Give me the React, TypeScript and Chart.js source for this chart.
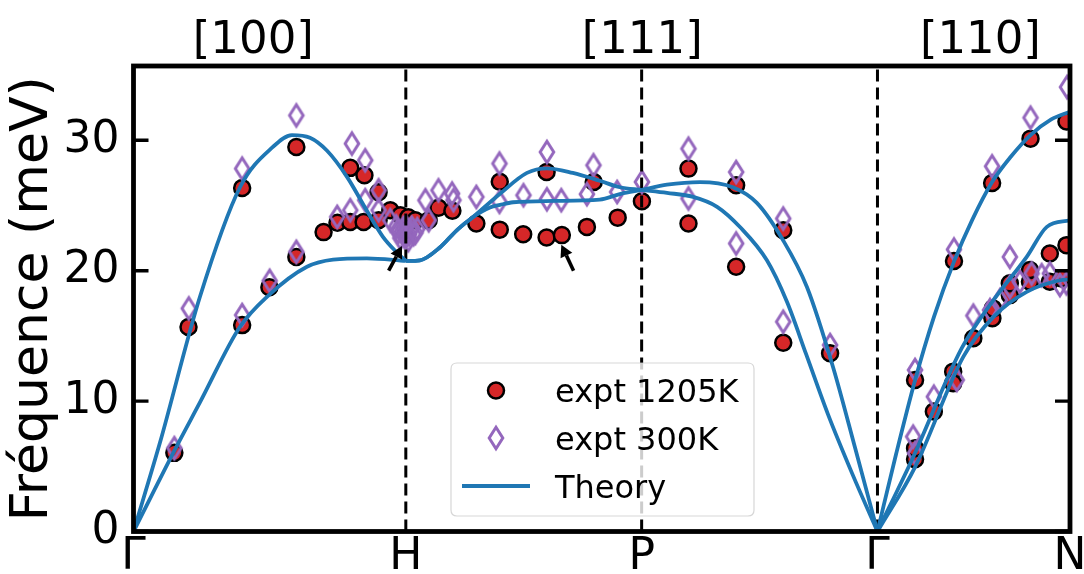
import React, { useEffect, useRef } from "react";
import { Chart, registerables } from "chart.js";

Chart.register(...registerables);

// ---- axes / labels ----
const kLabels = ["Γ", "H", "P", "Γ", "N"];
const kPositions = [0, 1, 1.866, 2.732, 3.439];
const dirLabels = ["[100]", "[111]", "[110]"];
const dirPositions = [0.44, 1.868, 3.11];
const yTickValues = [0, 10, 20, 30];
const yMax = 35.7;
const yTitle = "Fréquence (meV)";
const legendLabels = ["expt 1205K", "expt 300K", "Theory"];

// ---- experimental data [q, meV] ----
const expt1205K: [number, number][] = [
  [0.150, 6.03], [0.202, 15.68], [0.399, 26.35], [0.399, 15.83], [0.499, 18.74],
  [0.598, 29.49], [0.598, 21.06], [0.698, 22.96], [0.749, 23.68], [0.796, 23.74],
  [0.845, 23.74], [0.900, 23.87], [0.796, 27.89], [0.848, 27.32], [0.900, 26.02],
  [0.943, 24.64], [0.980, 24.26], [1.009, 24.1], [1.035, 23.87], [1.084, 23.87],
  [1.120, 24.83], [1.171, 24.6], [1.259, 23.62], [1.345, 26.82], [1.345, 23.15],
  [1.431, 22.8], [1.517, 22.55], [1.517, 27.57], [1.573, 22.73], [1.665, 23.36],
  [1.690, 26.81], [1.778, 24.07], [1.867, 25.33],
  [2.038, 27.83], [2.038, 23.62], [2.213, 26.55], [2.213, 20.3], [2.386, 23.11],
  [2.386, 14.48], [2.558, 13.67],
  [2.870, 5.55], [2.870, 6.39], [2.870, 11.62], [2.939, 9.2], [3.010, 12.26],
  [3.010, 11.37], [3.013, 20.74], [3.084, 14.82], [3.154, 16.35], [3.156, 17.11],
  [3.153, 26.73], [3.218, 18.13], [3.218, 19.03], [3.292, 19.15], [3.292, 20.05],
  [3.294, 30.13], [3.365, 19.15], [3.365, 21.32], [3.408, 19.41], [3.426, 21.96],
  [3.426, 31.45],
];

const expt300K: [number, number][] = [
  [0.150, 6.39], [0.203, 17.11], [0.399, 27.83], [0.399, 16.6], [0.500, 19.23],
  [0.598, 31.91], [0.598, 21.45], [0.748, 24.13], [0.796, 24.64], [0.802, 29.75],
  [0.851, 28.47], [0.851, 25.41], [0.900, 26.17], [0.900, 24.64], [0.943, 23.87],
  [0.972, 22.95], [0.991, 23.26], [1.002, 22.65], [1.017, 23.11], [1.028, 22.8],
  [1.042, 23.19], [1.009, 22.34], [0.980, 22.5], [0.985, 23.0], [0.995, 22.6],
  [1.012, 22.8], [1.022, 23.3], [1.035, 22.9], [1.0, 23.4], [0.965, 23.4],
  [1.072, 25.4], [1.084, 23.87], [1.120, 26.17], [1.170, 25.92], [1.175, 25.41],
  [1.259, 25.66], [1.344, 28.22], [1.344, 25.28], [1.432, 25.79], [1.518, 29.1],
  [1.518, 25.48], [1.571, 25.41], [1.665, 25.87], [1.689, 28.09], [1.776, 26.04],
  [1.867, 26.81],
  [2.038, 29.36], [2.038, 25.54], [2.213, 27.57], [2.213, 22.09], [2.386, 24.0],
  [2.386, 16.09], [2.558, 14.3],
  [2.863, 7.28], [2.870, 6.01], [2.870, 12.39], [2.939, 10.34], [3.023, 11.62],
  [3.013, 21.63], [3.084, 16.56], [3.145, 16.98], [3.153, 28.01], [3.182, 17.75],
  [3.218, 18.77], [3.218, 21.06], [3.255, 19.15], [3.298, 19.79], [3.294, 31.74],
  [3.335, 19.66], [3.365, 19.79], [3.402, 18.9], [3.426, 19.03], [3.428, 34.08],
];

// ---- theory branches [q, meV] ----
const theoryGH_L: [number, number][] = [
  [0, 0], [0.097, 6.8], [0.244, 18.0], [0.391, 26.4], [0.512, 29.5], [0.582, 30.4],
  [0.648, 30.2], [0.711, 29.2], [0.784, 27.2], [0.857, 24.6], [0.916, 22.6],
  [0.967, 21.4], [1, 20.75],
];
const theoryGH_T: [number, number][] = [
  [0, 0], [0.145, 6.0], [0.244, 9.9], [0.391, 15.7], [0.49, 18.0], [0.637, 20.3],
  [0.733, 20.85], [0.857, 20.95], [1, 20.75],
];
const theoryHP_1: [number, number][] = [
  [1, 20.75], [1.052, 20.8], [1.126, 21.8], [1.187, 23.1], [1.246, 24.1],
  [1.346, 25.9], [1.445, 27.5], [1.518, 27.85], [1.613, 27.5], [1.712, 26.9],
  [1.786, 26.4], [1.866, 26.2],
];
const theoryHP_2: [number, number][] = [
  [1, 20.75], [1.052, 20.8], [1.126, 21.8], [1.187, 23.1], [1.246, 24.1],
  [1.309, 24.85], [1.346, 25.05], [1.394, 25.25], [1.541, 25.35], [1.712, 25.45],
  [1.789, 25.9], [1.866, 26.2],
];
const theoryPG_1: [number, number][] = [
  [1.866, 26.2], [1.959, 25.97], [2.055, 25.66], [2.143, 24.9], [2.228, 23.33],
  [2.326, 20.8], [2.4, 17.6], [2.47, 13.6], [2.55, 9.0], [2.64, 4.4], [2.732, 0],
];
const theoryPG_2: [number, number][] = [
  [1.866, 26.2], [1.959, 26.6], [2.08, 26.8], [2.201, 26.4], [2.289, 25.2],
  [2.385, 22.35], [2.473, 18.75], [2.569, 12.6], [2.65, 6.4], [2.732, 0],
];
const theoryGN_L: [number, number][] = [
  [2.732, 0], [2.8, 5.9], [2.87, 11.6], [2.94, 16.5], [3.013, 20.7], [3.08, 23.9],
  [3.153, 26.8], [3.22, 28.7], [3.294, 30.4], [3.37, 31.6], [3.439, 32.2],
];
const theoryGN_T1: [number, number][] = [
  [2.732, 0], [2.863, 5.7], [3.041, 14.04], [3.158, 17.74], [3.28, 21.06],
  [3.354, 23.36], [3.439, 23.87],
];
const theoryGN_T2: [number, number][] = [
  [2.732, 0], [2.87, 4.94], [3.047, 13.39], [3.158, 16.46], [3.28, 18.38],
  [3.403, 19.27], [3.439, 19.33],
];
const theoryBranches = [
  theoryGH_L, theoryGH_T, theoryHP_1, theoryHP_2, theoryPG_1, theoryPG_2,
  theoryGN_L, theoryGN_T1, theoryGN_T2,
];

// ---- annotation arrows [q, meV] ----
const arrowTails: [number, number][] = [[0.937, 20.0], [1.616, 20.0]];
const arrowTips: [number, number][] = [[0.986, 21.9], [1.571, 22.0]];

const RED = "#d62728";
const PURPLE = "#9467bd";
const BLUE = "#1f77b4";
const FONT = "'DejaVu Sans', sans-serif";

function makeDiamond(): HTMLCanvasElement {
  const c = document.createElement("canvas");
  c.width = 22;
  c.height = 34;
  const g = c.getContext("2d")!;
  g.strokeStyle = PURPLE;
  g.lineWidth = 3;
  g.lineJoin = "miter";
  g.beginPath();
  g.moveTo(11, 17 - 10.8);
  g.lineTo(11 + 6.8, 17);
  g.lineTo(11, 17 + 10.8);
  g.lineTo(11 - 6.8, 17);
  g.closePath();
  g.stroke();
  return c;
}

export default function App() {
  const ref = useRef<HTMLCanvasElement | null>(null);

  useEffect(() => {
    if (!ref.current) return;
    const diamond = makeDiamond();
    const DIAMOND_INDEX = theoryBranches.length;

    const drawCircle = (ctx: CanvasRenderingContext2D, x: number, y: number) => {
      ctx.beginPath();
      ctx.arc(x, y, 8, 0, Math.PI * 2);
      ctx.fillStyle = RED;
      ctx.fill();
      ctx.lineWidth = 2.5;
      ctx.strokeStyle = "#000";
      ctx.stroke();
    };

    const decor = {
      id: "decor",
      beforeDraw(chart: any) {
        const { ctx, width, height } = chart;
        ctx.save();
        ctx.fillStyle = "#fff";
        ctx.fillRect(0, 0, width, height);
        ctx.restore();
      },
      afterDatasetDraw(chart: any, args: any) {
        if (args.index !== DIAMOND_INDEX) return;
        const { ctx, chartArea, scales } = chart;
        ctx.save();
        ctx.strokeStyle = "#000";
        ctx.lineWidth = 3;
        ctx.setLineDash([12, 6]);
        for (const k of [1, 2, 3]) {
          const px = scales.x.getPixelForValue(kPositions[k]);
          ctx.beginPath();
          ctx.moveTo(px, chartArea.bottom);
          ctx.lineTo(px, chartArea.top);
          ctx.stroke();
        }
        ctx.restore();
      },
      afterDraw(chart: any) {
        const { ctx, chartArea, scales } = chart;
        const { left, right, top, bottom } = chartArea;
        const xs = scales.x;
        const ys = scales.y;
        ctx.save();

        // arrows
        ctx.strokeStyle = "#000";
        ctx.fillStyle = "#000";
        ctx.lineWidth = 3.6;
        for (let i = 0; i < arrowTails.length; i++) {
          const x0 = xs.getPixelForValue(arrowTails[i][0]);
          const y0 = ys.getPixelForValue(arrowTails[i][1]);
          const x1 = xs.getPixelForValue(arrowTips[i][0]);
          const y1 = ys.getPixelForValue(arrowTips[i][1]);
          const ang = Math.atan2(y1 - y0, x1 - x0);
          const hl = 12, hw = 6.5;
          const bx = x1 - hl * Math.cos(ang);
          const by = y1 - hl * Math.sin(ang);
          ctx.beginPath();
          ctx.moveTo(x0, y0);
          ctx.lineTo(bx, by);
          ctx.stroke();
          ctx.beginPath();
          ctx.moveTo(x1, y1);
          ctx.lineTo(bx + hw * Math.sin(ang), by - hw * Math.cos(ang));
          ctx.lineTo(bx - hw * Math.sin(ang), by + hw * Math.cos(ang));
          ctx.closePath();
          ctx.fill();
        }

        // ticks (inward, left and right)
        ctx.lineWidth = 3.4;
        for (const v of yTickValues) {
          const py = ys.getPixelForValue(v);
          ctx.beginPath();
          ctx.moveTo(left, py);
          ctx.lineTo(left + 15, py);
          ctx.moveTo(right, py);
          ctx.lineTo(right - 15, py);
          ctx.stroke();
        }

        // spines
        ctx.lineWidth = 4.8;
        ctx.strokeRect(left, top, right - left, bottom - top);

        // direction labels above the plot
        ctx.font = `45px ${FONT}`;
        ctx.textAlign = "center";
        ctx.textBaseline = "alphabetic";
        ctx.fillStyle = "#000";
        dirLabels.forEach((t, i) => {
          ctx.fillText(t, xs.getPixelForValue(dirPositions[i]), 53);
        });

        // legend
        const lx = 451, ly = 363, lw = 303, lh = 153, r = 6;
        ctx.beginPath();
        ctx.moveTo(lx + r, ly);
        ctx.lineTo(lx + lw - r, ly);
        ctx.quadraticCurveTo(lx + lw, ly, lx + lw, ly + r);
        ctx.lineTo(lx + lw, ly + lh - r);
        ctx.quadraticCurveTo(lx + lw, ly + lh, lx + lw - r, ly + lh);
        ctx.lineTo(lx + r, ly + lh);
        ctx.quadraticCurveTo(lx, ly + lh, lx, ly + lh - r);
        ctx.lineTo(lx, ly + r);
        ctx.quadraticCurveTo(lx, ly, lx + r, ly);
        ctx.closePath();
        ctx.fillStyle = "rgba(255,255,255,0.8)";
        ctx.fill();
        ctx.lineWidth = 1.2;
        ctx.strokeStyle = "rgba(204,204,204,0.8)";
        ctx.stroke();

        const rows = [390.5, 438, 486];
        drawCircle(ctx, 496, rows[0]);
        ctx.drawImage(diamond, 496 - diamond.width / 2, rows[1] - diamond.height / 2);
        ctx.strokeStyle = BLUE;
        ctx.lineWidth = 3.8;
        ctx.beginPath();
        ctx.moveTo(462, rows[2]);
        ctx.lineTo(530, rows[2]);
        ctx.stroke();

        ctx.fillStyle = "#000";
        ctx.font = `32px ${FONT}`;
        ctx.textAlign = "left";
        ctx.textBaseline = "alphabetic";
        legendLabels.forEach((t, i) => {
          ctx.fillText(t, 555, rows[i] + 11.7);
        });

        ctx.restore();
      },
    };

    const theoryDatasets = theoryBranches.map((b) => ({
      label: "Theory",
      data: b.map(([x, y]) => ({ x, y })),
      showLine: true,
      borderColor: BLUE,
      borderWidth: 3.8,
      pointRadius: 0,
      fill: false,
      cubicInterpolationMode: "monotone" as const,
      order: 0,
      clip: 0,
    }));

    const chart = new Chart(ref.current, {
      type: "scatter",
      data: {
        datasets: [
          ...theoryDatasets,
          {
            label: "expt 300K",
            data: expt300K.map(([x, y]) => ({ x, y })),
            pointStyle: diamond,
            pointRadius: 11,
            order: 1,
            clip: 0,
          } as any,
          {
            label: "expt 1205K",
            data: expt1205K.map(([x, y]) => ({ x, y })),
            pointStyle: "circle",
            pointRadius: 8,
            backgroundColor: RED,
            borderColor: "#000",
            borderWidth: 2.5,
            order: 2,
            clip: 0,
          },
        ],
      },
      options: {
        responsive: false,
        animation: false,
        devicePixelRatio: 1,
        layout: { padding: { top: 66, right: 14, left: 0, bottom: 0 } },
        plugins: {
          legend: { display: false },
          tooltip: { enabled: false },
        },
        scales: {
          x: {
            type: "linear",
            min: 0,
            max: kPositions[kPositions.length - 1],
            grid: { display: false, drawTicks: false },
            border: { display: false },
            afterBuildTicks: (s: any) => {
              s.ticks = kPositions.map((v) => ({ value: v }));
            },
            afterFit: (s: any) => {
              s.height = 42.5;
              s.paddingLeft = 0;
              s.paddingRight = 0;
            },
            ticks: {
              autoSkip: false,
              maxRotation: 0,
              padding: 0,
              color: "#000",
              font: { family: FONT, size: 44, lineHeight: 1.2 },
              callback: (_v: any, i: number) => kLabels[i],
            },
          },
          y: {
            type: "linear",
            min: 0,
            max: yMax,
            grid: { display: false, drawTicks: false },
            border: { display: false },
            afterBuildTicks: (s: any) => {
              s.ticks = yTickValues.map((v) => ({ value: v }));
            },
            afterFit: (s: any) => {
              s.width = 133.5;
            },
            ticks: {
              padding: 14,
              color: "#000",
              font: { family: FONT, size: 44, lineHeight: 1.2 },
            },
            title: {
              display: true,
              text: yTitle,
              color: "#000",
              font: { family: FONT, size: 52, lineHeight: 1.2 },
              padding: { top: 2, bottom: 0 },
            },
          },
        },
      },
      plugins: [decor],
    });

    return () => chart.destroy();
  }, []);

  return (
    <div style={{ position: "fixed", left: 0, top: 0, width: 1084, height: 574, background: "#fff" }}>
      <canvas ref={ref} width={1084} height={574} style={{ display: "block" }} />
    </div>
  );
}
